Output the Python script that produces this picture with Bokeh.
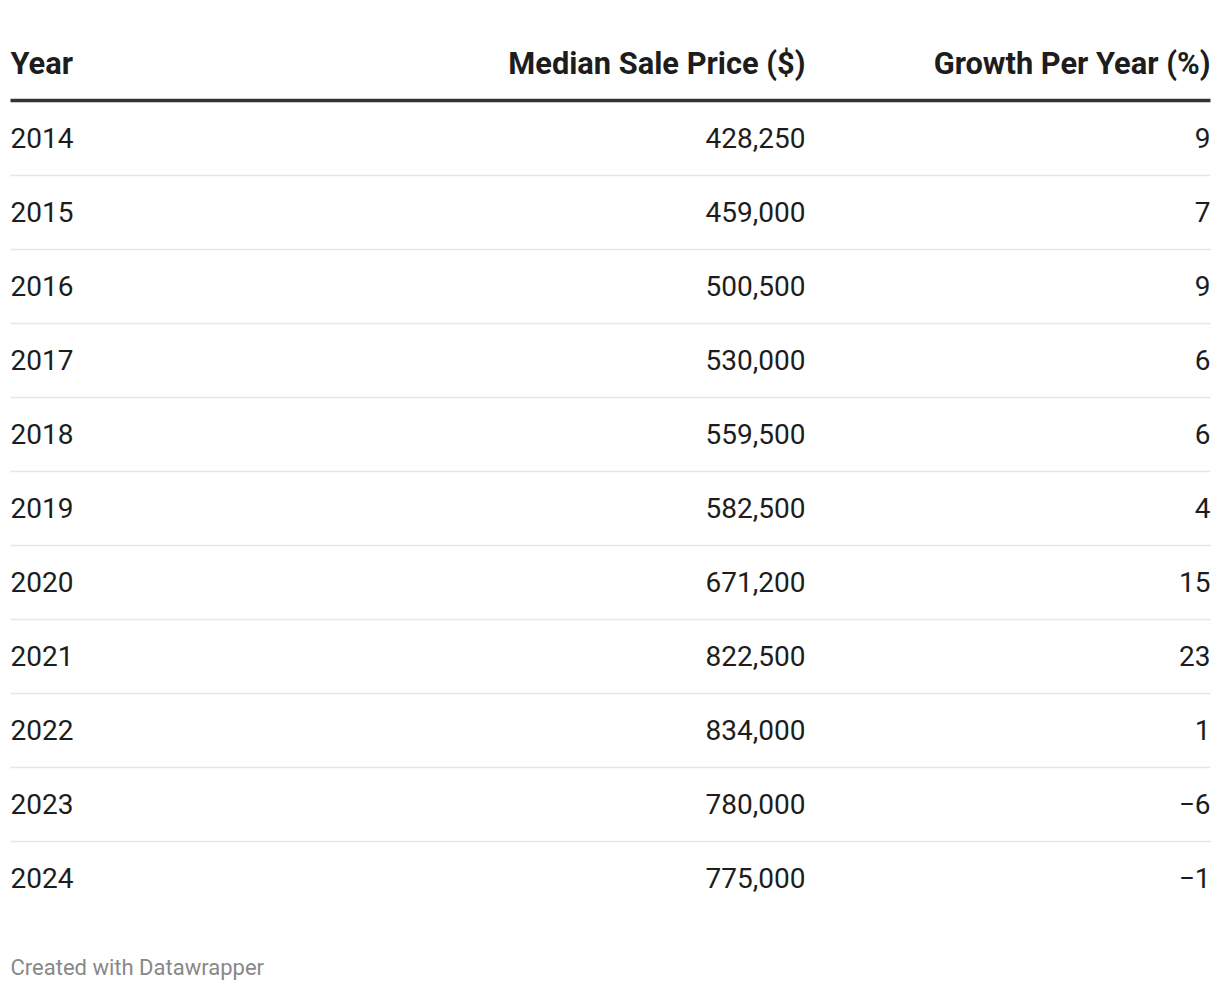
from bokeh.plotting import figure
from bokeh.models import Range1d, ColumnDataSource
from bokeh.core.properties import value
from bokeh.embed import file_html
from bokeh.resources import INLINE

# ---- data ----
years = ["2014", "2015", "2016", "2017", "2018", "2019", "2020", "2021", "2022", "2023", "2024"]
median_price = [428250, 459000, 500500, 530000, 559500, 582500, 671200, 822500, 834000, 780000, 775000]
growth = [9, 7, 9, 6, 6, 4, 15, 23, 1, -6, -1]
headers = ["Year", "Median Sale Price ($)", "Growth Per Year (%)"]
footer = "Created with Datawrapper"

FONT = "Roboto"
n = len(years)
rows = list(range(n))

def fmt_price(v):
    return f"{v:,}"

def fmt_growth(v):
    return f"{v}" if v >= 0 else "\u2212" + str(abs(v))

W, H = 1218, 988
ROW_H = 74.0
ROW0 = 138.0  # screen px of first row center
y_top = (0 - ROW0) / ROW_H
y_bot = (H - ROW0) / ROW_H

p = figure(width=W, height=H, output_backend="svg", toolbar_location=None,
           x_range=Range1d(0, W), y_range=Range1d(y_bot, y_top),
           min_border=0)
p.axis.visible = False
p.grid.visible = False
p.outline_line_color = None
p.background_fill_color = "white"
p.border_fill_color = "white"

X_LEFT = 10
X_MID = 805
X_RIGHT = 1210
TXT_OFF = -1.0 / ROW_H  # small vertical nudge for text

src = ColumnDataSource(dict(
    row=rows,
    ytxt=[r + TXT_OFF for r in rows],
    year=years,
    price=[fmt_price(v) for v in median_price],
    growth=[fmt_growth(v) for v in growth],
))

# separators between rows
p.segment(x0=X_LEFT, x1=X_RIGHT, y0=[r + 0.5 for r in rows[:-1]], y1=[r + 0.5 for r in rows[:-1]],
          line_color="#e6e6e6", line_width=1.6)

# header rule
p.segment(x0=X_LEFT, x1=X_RIGHT, y0=-0.515, y1=-0.515, line_color="#333333", line_width=3.5)

TXT = "#1d1d1d"
HDR_Y = (62.8 - ROW0) / ROW_H
HDR_SIZE = "30.8px"
# header texts
p.text(x=[X_LEFT], y=[HDR_Y], text=[headers[0]], text_font=value(FONT), text_font_style="bold",
       text_font_size=HDR_SIZE, text_color=TXT, text_align="left", text_baseline="middle")
p.text(x=[X_MID], y=[HDR_Y], text=[headers[1]], text_font=value(FONT), text_font_style="bold",
       text_font_size=HDR_SIZE, text_color=TXT, text_align="right", text_baseline="middle")
p.text(x=[X_RIGHT], y=[HDR_Y], text=[headers[2]], text_font=value(FONT), text_font_style="bold",
       text_font_size=HDR_SIZE, text_color=TXT, text_align="right", text_baseline="middle")

# body
p.text(x=X_LEFT, y="ytxt", text="year", source=src, text_font=value(FONT), text_font_size="28px",
       text_color=TXT, text_align="left", text_baseline="middle")
p.text(x=X_MID, y="ytxt", text="price", source=src, text_font=value(FONT), text_font_size="28px",
       text_color=TXT, text_align="right", text_baseline="middle")
p.text(x=X_RIGHT, y="ytxt", text="growth", source=src, text_font=value(FONT), text_font_size="28px",
       text_color=TXT, text_align="right", text_baseline="middle")

# footer
p.text(x=[X_LEFT], y=[(966.5 - ROW0) / ROW_H], text=[footer], text_font=value(FONT),
       text_font_size="22px", text_color="#888888", text_align="left", text_baseline="middle")

open("out.html", "w").write(file_html(p, INLINE))
